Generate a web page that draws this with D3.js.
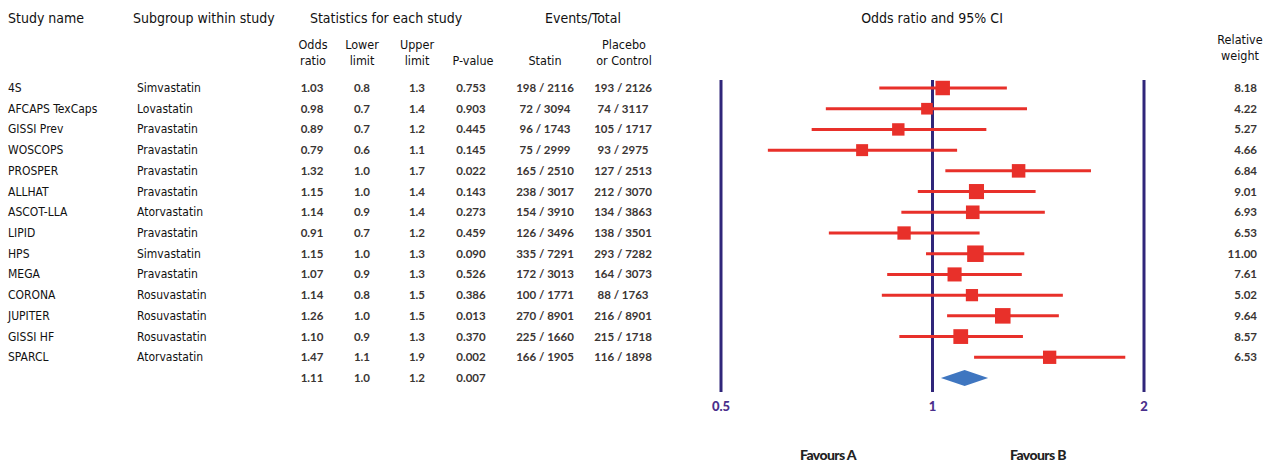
<!DOCTYPE html>
<html>
<head>
<meta charset="utf-8">
<script src="https://cdn.jsdelivr.net/npm/d3@7"></script>
<style>
  body { margin: 0; background: #fff; }
  .hd { font-family: "DejaVu Sans Condensed", "DejaVu Sans", sans-serif; font-stretch: condensed; fill: #111; }
  .num { font-family: Lato, "Open Sans", sans-serif; fill: #3a3533; font-weight: 700; }
</style>
</head>
<body>
<div id="chart"></div>
<script>
// study rows
const studies = ["4S", "AFCAPS TexCaps", "GISSI Prev", "WOSCOPS", "PROSPER", "ALLHAT", "ASCOT-LLA",
  "LIPID", "HPS", "MEGA", "CORONA", "JUPITER", "GISSI HF", "SPARCL"];
const subgroups = ["Simvastatin", "Lovastatin", "Pravastatin", "Pravastatin", "Pravastatin", "Pravastatin",
  "Atorvastatin", "Pravastatin", "Simvastatin", "Pravastatin", "Rosuvastatin", "Rosuvastatin", "Rosuvastatin", "Atorvastatin"];
// table columns as printed (last entry = pooled)
const oddsText  = ["1.03","0.98","0.89","0.79","1.32","1.15","1.14","0.91","1.15","1.07","1.14","1.26","1.10","1.47","1.11"];
const lowerText = ["0.8","0.7","0.7","0.6","1.0","1.0","0.9","0.7","1.0","0.9","0.8","1.0","0.9","1.1","1.0"];
const upperText = ["1.3","1.4","1.2","1.1","1.7","1.4","1.4","1.2","1.3","1.3","1.5","1.5","1.3","1.9","1.2"];
const pText     = ["0.753","0.903","0.445","0.145","0.022","0.143","0.273","0.459","0.090","0.526","0.386","0.013","0.370","0.002","0.007"];
const statinText  = ["198 / 2116","72 / 3094","96 / 1743","75 / 2999","165 / 2510","238 / 3017","154 / 3910",
  "126 / 3496","335 / 7291","172 / 3013","100 / 1771","270 / 8901","225 / 1660","166 / 1905"];
const placeboText = ["193 / 2126","74 / 3117","105 / 1717","93 / 2975","127 / 2513","212 / 3070","134 / 3863",
  "138 / 3501","293 / 7282","164 / 3073","88 / 1763","216 / 8901","215 / 1718","116 / 1898"];
const weights = [8.18, 4.22, 5.27, 4.66, 6.84, 9.01, 6.93, 6.53, 11.00, 7.61, 5.02, 9.64, 8.57, 6.53];
// plotted estimates
const orPlot = [1.034, 0.982, 0.894, 0.794, 1.326, 1.155, 1.141, 0.911, 1.151, 1.075, 1.138, 1.259, 1.097, 1.468];
const loPlot = [0.840, 0.705, 0.673, 0.583, 1.043, 0.953, 0.903, 0.712, 0.979, 0.862, 0.847, 1.049, 0.897, 1.146];
const hiPlot = [1.276, 1.363, 1.193, 1.084, 1.681, 1.402, 1.445, 1.167, 1.351, 1.340, 1.533, 1.513, 1.345, 1.881];
const pooled = {or: 1.111, lo: 1.028, hi: 1.200};
const axisTicks = [0.5, 1, 2];

const W = 1270, H = 465;
const svg = d3.select("#chart").append("svg").attr("width", W).attr("height", H);

const rows = studies.concat(["Pooled"]);
const y = d3.scalePoint().domain(rows).range([88, 378]);
const x = d3.scaleLog().base(2).domain([0.5, 2]).range([721, 1144]);
const side = d3.scaleLinear().domain([4, 11]).range([11.5, 16.5]);

// headers
const hd = svg.append("g").attr("class", "hd");
hd.append("text").attr("x", 8).attr("y", 23).attr("font-size", 14).text("Study name");
hd.append("text").attr("x", 133).attr("y", 23).attr("font-size", 14).text("Subgroup within study");
hd.append("text").attr("x", 386).attr("y", 23).attr("font-size", 14).attr("text-anchor", "middle").text("Statistics for each study");
hd.append("text").attr("x", 583).attr("y", 23).attr("font-size", 14).attr("text-anchor", "middle").text("Events/Total");
hd.append("text").attr("x", 932).attr("y", 23).attr("font-size", 14).attr("text-anchor", "middle").text("Odds ratio and 95% CI");

const sub = [
  {x: 313, l: ["Odds", "ratio"]},
  {x: 362, l: ["Lower", "limit"]},
  {x: 417, l: ["Upper", "limit"]},
  {x: 473, l: ["", "P-value"]},
  {x: 545, l: ["", "Statin"]},
  {x: 624, l: ["Placebo", "or Control"]},
  {x: 1240, l: ["Relative", "weight"]}
];
sub.forEach(s => {
  s.l.forEach((t, i) => {
    hd.append("text").attr("x", s.x).attr("y", (s.x === 1240 ? 44 : 49) + i * 16)
      .attr("font-size", 12.5).attr("text-anchor", "middle").text(t);
  });
});

// study names / subgroups
const tb = svg.append("g").attr("class", "hd");
tb.selectAll(".nm").data(studies).join("text")
  .attr("x", 8).attr("y", d => y(d) + 4).attr("font-size", 12).text(d => d);
tb.selectAll(".sg").data(subgroups).join("text")
  .attr("x", 137).attr("y", (d, i) => y(studies[i]) + 4).attr("font-size", 12).text(d => d);

// numeric columns
const cols = [
  {x: 312, v: oddsText}, {x: 362, v: lowerText}, {x: 417, v: upperText},
  {x: 471, v: pText}, {x: 545, v: statinText}, {x: 623, v: placeboText}
];
const nb = svg.append("g").attr("class", "num");
cols.forEach(c => {
  nb.selectAll(null).data(c.v).join("text")
    .attr("x", c.x).attr("y", (d, i) => y(rows[i]) + 4)
    .attr("font-size", 11.5).attr("text-anchor", "middle").text(d => d);
});
nb.selectAll(".wt").data(weights).join("text")
  .attr("x", 1257).attr("y", (d, i) => y(studies[i]) + 4)
  .attr("font-size", 11.5).attr("text-anchor", "end").text(d => d.toFixed(2));

// vertical reference lines
const plot = svg.append("g");
plot.selectAll(".ref").data(axisTicks).join("line")
  .attr("x1", d => x(d)).attr("x2", d => x(d))
  .attr("y1", 80).attr("y2", 392)
  .attr("stroke", "#30267a").attr("stroke-width", 3);

plot.selectAll(".tk").data(axisTicks).join("text")
  .attr("x", d => x(d)).attr("y", 411)
  .attr("text-anchor", "middle")
  .attr("font-family", "Lato, sans-serif").attr("font-weight", 900).attr("font-size", 13)
  .attr("fill", "#4a2f8c").text(d => d);

// CI lines
plot.selectAll(".ci").data(studies).join("line")
  .attr("x1", (d, i) => x(loPlot[i])).attr("x2", (d, i) => x(hiPlot[i]))
  .attr("y1", d => y(d)).attr("y2", d => y(d))
  .attr("stroke", "#e8302a").attr("stroke-width", 3);

// squares
plot.selectAll(".sq").data(studies).join("rect")
  .attr("x", (d, i) => x(orPlot[i]) - side(weights[i]) / 2)
  .attr("y", (d, i) => y(d) - side(weights[i]) / 2)
  .attr("width", (d, i) => side(weights[i]))
  .attr("height", (d, i) => side(weights[i]))
  .attr("fill", "#e8302a");

// pooled diamond
const py = y("Pooled");
plot.append("path")
  .attr("d", `M${x(pooled.lo)},${py} L${x(pooled.or)},${py - 8} L${x(pooled.hi)},${py} L${x(pooled.or)},${py + 8} Z`)
  .attr("fill", "#3f76c0");

// favours labels
svg.selectAll(".fav").data(["Favours A", "Favours B"]).join("text")
  .attr("x", (d, i) => i === 0 ? 828 : 1038).attr("y", 460)
  .attr("text-anchor", "middle")
  .attr("font-family", "Lato, sans-serif").attr("font-weight", 900).attr("font-size", 14)
  .attr("letter-spacing", -0.6).attr("fill", "#222").text(d => d);
</script>
</body>
</html>
